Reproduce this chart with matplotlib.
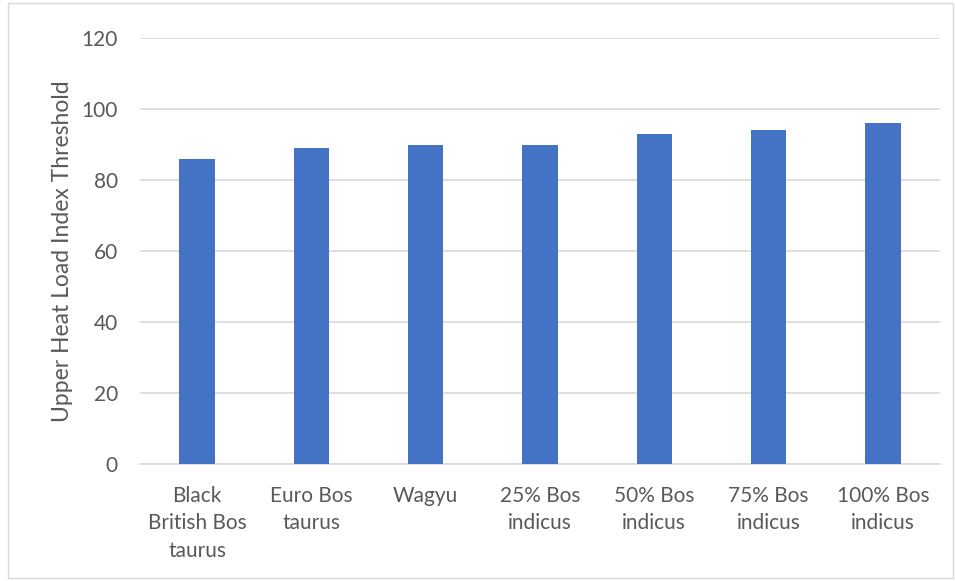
import matplotlib.pyplot as plt
from matplotlib.patches import Rectangle

categories = ['Black\nBritish Bos\ntaurus', 'Euro Bos\ntaurus', 'Wagyu',
              '25% Bos\nindicus', '50% Bos\nindicus', '75% Bos\nindicus',
              '100% Bos\nindicus']
thresholds = [86, 89, 90, 90, 93, 94, 96]
y_ticks = [0, 20, 40, 60, 80, 100, 120]

plt.rcParams['font.family'] = ['Lato', 'DejaVu Sans']
text_color = '#595959'

fig = plt.figure(figsize=(9.55, 5.81), dpi=100)
ax = fig.add_axes([140 / 955, 1 - 464 / 581, 800 / 955, 426 / 581])

x = range(len(categories))
ax.bar(x, thresholds, width=0.31, color='#4472C4', zorder=3)

ax.set_xlim(-0.5, len(categories) - 0.5)
ax.set_ylim(0, 120)
ax.set_yticks(y_ticks)
ax.set_xticks(list(x))
ax.set_xticklabels(categories, fontsize=15, color=text_color, linespacing=1.45)
ax.tick_params(axis='y', labelsize=15, labelcolor=text_color, length=0, pad=16)
ax.tick_params(axis='x', length=0, pad=16)
ax.grid(axis='y', color='#D9D9D9', linewidth=1.2, zorder=0)
for s in ['top', 'right', 'left']:
    ax.spines[s].set_visible(False)
ax.spines['bottom'].set_color('#D9D9D9')
ax.spines['bottom'].set_linewidth(1.2)

ax.set_ylabel('Upper Heat Load Index Threshold', fontsize=16.5, color=text_color, labelpad=6)

# outer chart border
fig.patches.append(Rectangle((8 / 955, 3 / 581), 945 / 955, 575 / 581,
                             transform=fig.transFigure, fill=False,
                             edgecolor='#D9D9D9', linewidth=1))

fig.savefig('out.png', dpi=100)
